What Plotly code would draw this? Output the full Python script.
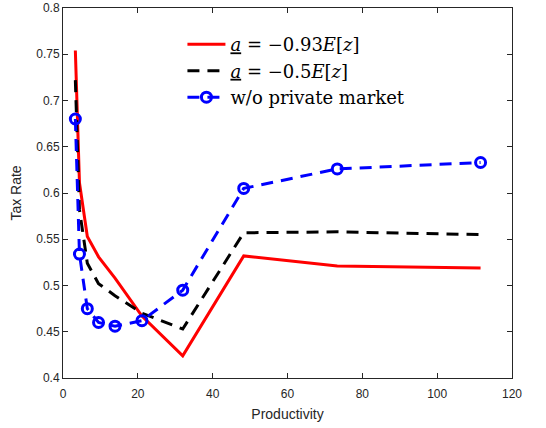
import plotly.graph_objects as go

productivity = [3.3, 4.4, 6.5, 9.5, 13.9, 21.1, 32.0, 48.3, 73.3, 111.6]
tax_a093 = [0.754, 0.611, 0.553, 0.531, 0.508, 0.467, 0.424, 0.532, 0.521, 0.519]
tax_a05 = [0.722, 0.582, 0.524, 0.502, 0.489, 0.470, 0.453, 0.557, 0.558, 0.555]
tax_nopm = [0.680, 0.534, 0.475, 0.460, 0.456, 0.462, 0.495, 0.605, 0.626, 0.633]

names = [
    '<span style="text-decoration:underline"><i>a</i></span> = \u22120.93<i>E</i>[<i>z</i>]',
    '<span style="text-decoration:underline"><i>a</i></span> = \u22120.5<i>E</i>[<i>z</i>]',
    'w/o private market',
]

fig = go.Figure()
fig.add_trace(go.Scatter(x=productivity, y=tax_a093, mode="lines", name=names[0],
                         line=dict(color="#FF0000", width=3)))
fig.add_trace(go.Scatter(x=productivity, y=tax_a05, mode="lines", name=names[1],
                         line=dict(color="#000000", width=3, dash="12px,8px")))
fig.add_trace(go.Scatter(x=productivity, y=tax_nopm, mode="lines+markers", name=names[2],
                         line=dict(color="#0000FF", width=3, dash="12px,8px"),
                         marker=dict(symbol="circle-open", size=10, color="#0000FF",
                                     line=dict(width=3, color="#0000FF"))))

axis_common = dict(showline=True, linecolor="#262626", linewidth=1, mirror="allticks",
                   ticks="inside", ticklen=5, tickcolor="#262626", showgrid=False,
                   zeroline=False, automargin=False,
                   tickfont=dict(family="Liberation Sans, Arial", size=12, color="#262626"))

fig.update_xaxes(range=[0, 120], tickvals=[0, 20, 40, 60, 80, 100, 120],
                 ticklabelstandoff=5,
                 title=dict(text="Productivity", font=dict(family="Liberation Sans, Arial", size=14, color="#262626"), standoff=8),
                 **axis_common)
fig.update_yaxes(range=[0.4, 0.8], tickvals=[0.4, 0.45, 0.5, 0.55, 0.6, 0.65, 0.7, 0.75, 0.8],
                 ticktext=["0.4", "0.45", "0.5", "0.55", "0.6", "0.65", "0.7", "0.75", "0.8"],
                 title=dict(text="Tax Rate", font=dict(family="Liberation Sans, Arial", size=14, color="#262626"), standoff=11),
                 **axis_common)

fig.update_layout(
    width=546, height=428,
    margin=dict(l=63, r=34, t=8, b=50),
    plot_bgcolor="white", paper_bgcolor="white",
    showlegend=True,
    legend=dict(x=0.266, y=0.951, xanchor="left", yanchor="top",
                bgcolor="rgba(0,0,0,0)", borderwidth=0,
                font=dict(family="DejaVu Serif", size=18, color="#000000"),
                tracegroupgap=0, itemwidth=38),
)

fig.write_html("out.html", config={"displayModeBar": False},
               post_script="document.body.style.margin='0';")
